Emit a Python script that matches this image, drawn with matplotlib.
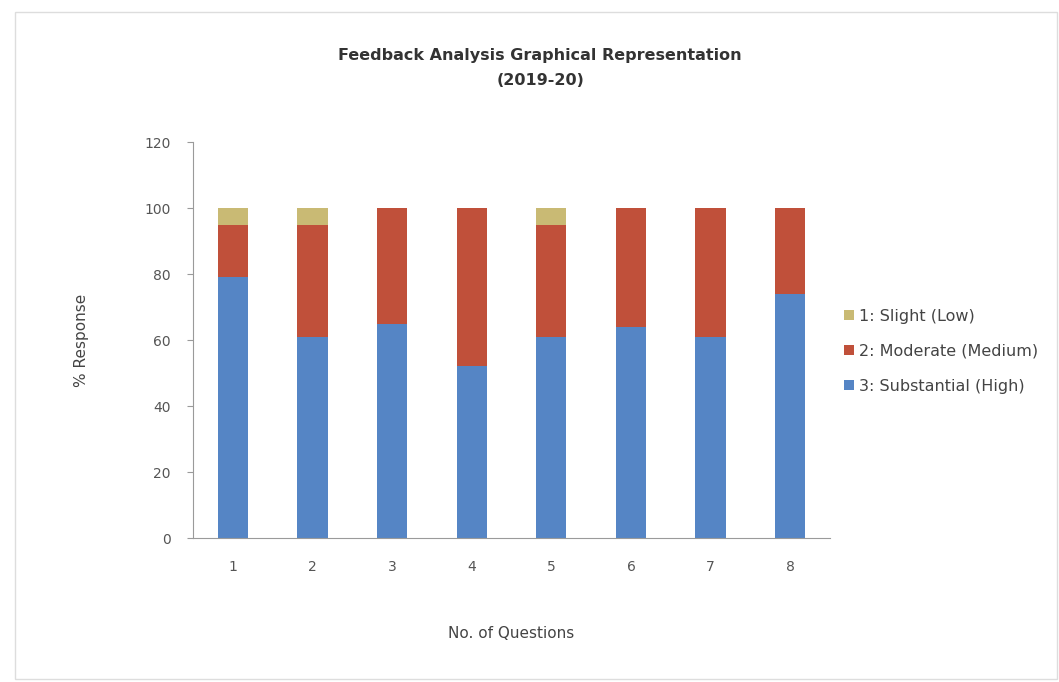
import matplotlib.pyplot as plt
import numpy as np
from matplotlib.patches import Rectangle

OUTPUT_PATH = "out.png"

questions = ["1", "2", "3", "4", "5", "6", "7", "8"]
high = [79, 61, 65, 52, 61, 64, 61, 74]
medium = [16, 34, 35, 48, 34, 36, 39, 26]
low = [5, 5, 0, 0, 5, 0, 0, 0]

series_labels = ["1: Slight (Low)", "2: Moderate (Medium)", "3: Substantial (High)"]
y_ticks = [0, 20, 40, 60, 80, 100, 120]

BLUE = "#5585c5"
RED = "#c0503a"
KHAKI = "#c9ba74"
GREY = "#9a9a9a"


def main() -> None:
    fig = plt.figure(figsize=(10.59, 6.82), dpi=100)
    fig.patch.set_facecolor("white")

    # faint chart-area border like the scanned Excel chart
    fig.add_artist(Rectangle((0.014, 0.004), 0.984, 0.978, transform=fig.transFigure,
                             fill=False, edgecolor="#dddddd", linewidth=1.0))

    ax = fig.add_axes([0.1822, 0.2111, 0.6016, 0.5806])
    x = np.arange(1, len(questions) + 1)
    width = 0.38

    high_arr = np.array(high, dtype=float)
    med_arr = np.array(medium, dtype=float)
    low_arr = np.array(low, dtype=float)

    ax.bar(x, high_arr, width, color=BLUE, label=series_labels[2])
    ax.bar(x, med_arr, width, bottom=high_arr, color=RED, label=series_labels[1])
    ax.bar(x, low_arr, width, bottom=high_arr + med_arr, color=KHAKI, label=series_labels[0])

    ax.set_xlim(0.5, len(questions) + 0.5)
    ax.set_ylim(0, 120)
    ax.set_xticks(x)
    ax.set_xticklabels(questions)
    ax.set_yticks(y_ticks)
    ax.tick_params(axis="both", labelsize=10, colors="#555555", length=4, color=GREY)
    ax.tick_params(axis="y", pad=12)
    ax.tick_params(axis="x", length=0, pad=16)

    for side in ("top", "right"):
        ax.spines[side].set_visible(False)
    ax.spines["left"].set_color(GREY)
    ax.spines["bottom"].set_color(GREY)

    ax.set_xlabel("No. of Questions", fontsize=11, color="#444444", labelpad=37)
    ax.set_ylabel("% Response", fontsize=11, color="#444444", labelpad=40)

    fig.text(0.51, 0.918, "Feedback Analysis Graphical Representation", ha="center",
             va="center", fontsize=11.5, fontweight="bold", color="#333333")
    fig.text(0.51, 0.882, "(2019-20)", ha="center", va="center", fontsize=11.5,
             fontweight="bold", color="#333333")

    handles, labels = ax.get_legend_handles_labels()
    ax.legend(handles[::-1], labels[::-1], loc="center left", bbox_to_anchor=(1.0, 0.472),
              frameon=False, fontsize=11.5, handlelength=0.6, handleheight=0.6,
              handletextpad=0.3, labelspacing=1.25, labelcolor="#444444")

    fig.savefig(OUTPUT_PATH, dpi=100)
    plt.close(fig)


if __name__ == "__main__":
    main()
